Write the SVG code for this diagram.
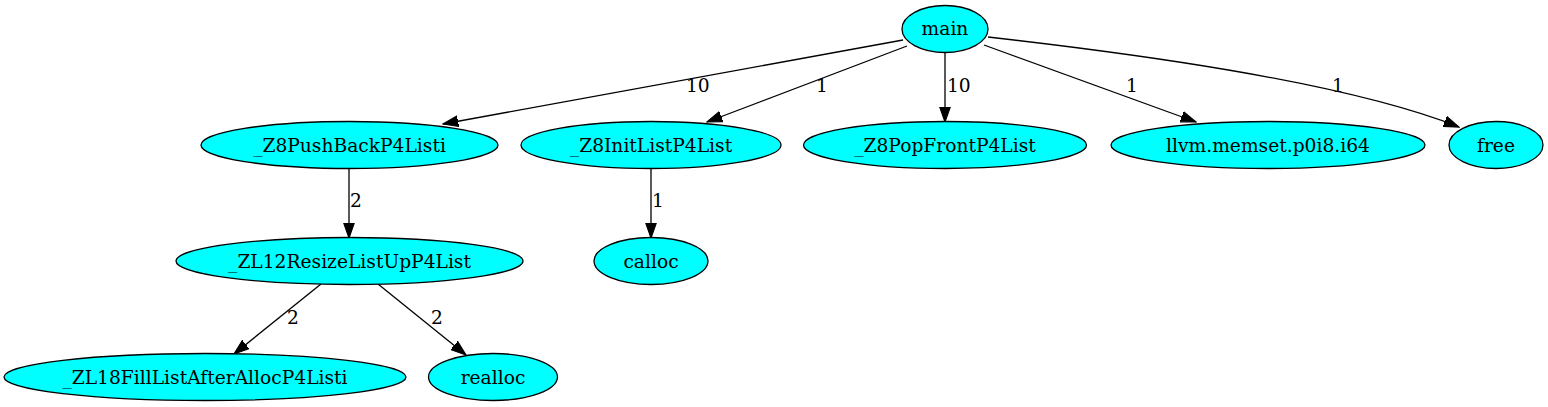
<svg xmlns="http://www.w3.org/2000/svg" width="1548" height="407" viewBox="0 0 1548 407">
<style>
.n ellipse{fill:#00ffff;stroke:#000;stroke-width:1.3}
text{font-family:"DejaVu Serif","Liberation Serif",serif;font-size:18.67px;fill:#000}
.n text{text-anchor:middle}
.e path{fill:none;stroke:#000;stroke-width:1.3;marker-end:url(#ah)}
.e text{text-anchor:start}
</style>
<defs>
<marker id="ah" markerUnits="userSpaceOnUse" markerWidth="16" markerHeight="12" viewBox="0 0 14 10" refX="13.3" refY="5" orient="auto">
<path d="M0,0.3 L13.3,5 L0,9.7 Z" fill="#000" stroke="#000" stroke-width="1"/>
</marker>
</defs>
<rect width="1548" height="407" fill="#fff"/>
<g class="e" id="edges">
<path d="M903,40 L443,124"/>
<text x="686" y="92">10</text>
<path d="M907,46 L707,122"/>
<text x="816" y="92">1</text>
<path d="M945,52 L945,122"/>
<text x="947" y="92">10</text>
<path d="M984,45 L1196,122"/>
<text x="1126" y="92">1</text>
<path d="M988,37 C1120,52 1340,80 1459,127"/>
<text x="1332" y="92">1</text>
<path d="M349,169 L349,238"/>
<text x="350" y="207">2</text>
<path d="M651,169 L651,238"/>
<text x="652" y="207">1</text>
<path d="M321,284 L234,354"/>
<text x="287" y="324">2</text>
<path d="M378,284 L466,355"/>
<text x="431" y="324">2</text>
</g>
<g class="n" id="main"><ellipse cx="945" cy="29" rx="43" ry="23.5"/><text x="945" y="35">main</text></g>
<g class="n" id="pushback"><ellipse cx="349.5" cy="145" rx="148.5" ry="23.5"/><text x="349.5" y="151.5">_Z8PushBackP4Listi</text></g>
<g class="n" id="initlist"><ellipse cx="651" cy="145" rx="130" ry="23.5"/><text x="651" y="151.5">_Z8InitListP4List</text></g>
<g class="n" id="popfront"><ellipse cx="945" cy="145" rx="141.5" ry="23.5"/><text x="945" y="151.5">_Z8PopFrontP4List</text></g>
<g class="n" id="memset"><ellipse cx="1268" cy="145" rx="157" ry="23.5"/><text x="1268" y="151.5">llvm.memset.p0i8.i64</text></g>
<g class="n" id="free"><ellipse cx="1496" cy="145" rx="47" ry="23.5"/><text x="1496" y="151.5">free</text></g>
<g class="n" id="resize"><ellipse cx="349.5" cy="261" rx="173.5" ry="23.5"/><text x="349.5" y="267.5">_ZL12ResizeListUpP4List</text></g>
<g class="n" id="calloc"><ellipse cx="651" cy="261" rx="57" ry="23.5"/><text x="651" y="267.5">calloc</text></g>
<g class="n" id="fill"><ellipse cx="205" cy="377" rx="201" ry="23.5"/><text x="205" y="383.5">_ZL18FillListAfterAllocP4Listi</text></g>
<g class="n" id="realloc"><ellipse cx="493" cy="377" rx="64.5" ry="23.5"/><text x="493" y="383.5">realloc</text></g>
</svg>
